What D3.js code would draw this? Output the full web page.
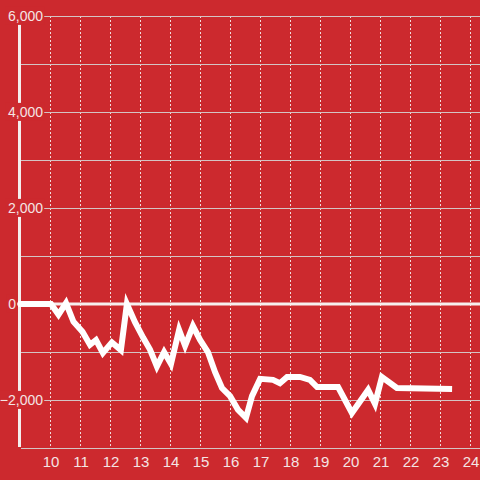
<!DOCTYPE html>
<html><head><meta charset="utf-8">
<script src="https://cdn.jsdelivr.net/npm/d3@7"></script>
<style>html,body{margin:0;padding:0;background:#cc292e;}svg{display:block;}</style>
</head><body>
<script>
const times = [9, 10, 10.25, 10.5, 10.75, 11.05, 11.3, 11.5, 11.73, 12.03, 12.33, 12.53, 12.8, 13.07, 13.3, 13.53, 13.77, 14.0, 14.27, 14.47, 14.73, 14.97, 15.23, 15.47, 15.7, 15.97, 16.23, 16.5, 16.7, 16.97, 17.4, 17.63, 17.87, 18.3, 18.63, 18.87, 19.57, 20.03, 20.57, 20.8, 21.03, 21.53, 23.27];
const values = [0, 0, -220, 20, -370, -580, -850, -750, -1020, -800, -960, 0, -380, -700, -950, -1300, -1000, -1250, -540, -870, -460, -750, -1000, -1420, -1750, -1920, -2200, -2370, -1920, -1560, -1580, -1650, -1520, -1520, -1580, -1730, -1730, -2270, -1790, -2080, -1520, -1750, -1770];
const xTicks = [10, 11, 12, 13, 14, 15, 16, 17, 18, 19, 20, 21, 22, 23, 24];
const yGrid = [-3000, -2000, -1000, 0, 1000, 2000, 3000, 4000, 5000, 6000];
const yLabels = [-2000, 0, 2000, 4000, 6000];

const W = 480, H = 480;
const bg = "#cc292e";
const svg = d3.select("body").append("svg").attr("width", W).attr("height", H);
svg.append("rect").attr("width", W).attr("height", H).attr("fill", bg);

const x = d3.scaleLinear().domain([9, 24.3]).range([21, 480]);
const y = d3.scaleLinear().domain([-3000, 6000]).range([448, 16]);

// vertical dotted grid
svg.append("g").selectAll("line").data(xTicks).join("line")
  .attr("x1", d => Math.round(x(d)) - 0.5).attr("x2", d => Math.round(x(d)) - 0.5)
  .attr("y1", 16).attr("y2", 448)
  .attr("stroke", "#f0dcdc").attr("stroke-width", 1).attr("stroke-dasharray", "2,2");

// horizontal grid
svg.append("g").selectAll("line").data(yGrid.filter(d => d !== 0)).join("line")
  .attr("x1", 21).attr("x2", W)
  .attr("y1", d => y(d) + 0.5).attr("y2", d => y(d) + 0.5)
  .attr("stroke", "#d4c4c4").attr("stroke-width", 1);

// zero line
svg.append("line").attr("x1", 17).attr("x2", W).attr("y1", y(0)).attr("y2", y(0))
  .attr("stroke", "#f6eeee").attr("stroke-width", 3);

// y axis line
svg.append("line").attr("x1", 19.5).attr("x2", 19.5).attr("y1", 16).attr("y2", 447)
  .attr("stroke", "#f4eeee").attr("stroke-width", 3);

// data line
const pts = times.map((t, i) => [t, values[i]]);
svg.append("path").datum(pts)
  .attr("d", d3.line().x(d => x(d[0])).y(d => y(d[1])))
  .attr("fill", "none").attr("stroke", "#ffffff").attr("stroke-width", 6)
  .attr("stroke-linecap", "square").attr("stroke-linejoin", "miter");

// y labels with background boxes
const fmt = d3.format(",");
const yl = svg.append("g").selectAll("g").data(yLabels).join("g");
yl.each(function(d) {
  const g = d3.select(this);
  const t = g.append("text").attr("x", d === 0 ? 16 : 43).attr("y", y(d)).attr("dy", "0.35em")
    .attr("text-anchor", "end").attr("font-family", "Liberation Sans, Arial, sans-serif")
    .attr("font-size", 14).attr("fill", "#f4e4e4").text(fmt(d));
  const bb = t.node().getBBox();
  g.insert("rect", "text").attr("x", bb.x - 2).attr("y", bb.y - 1)
    .attr("width", bb.width + 3).attr("height", bb.height + 2).attr("fill", bg);
});

// x labels
svg.append("g").selectAll("text").data(xTicks).join("text")
  .attr("x", d => x(d)).attr("y", 467).attr("text-anchor", "middle")
  .attr("font-family", "Liberation Sans, Arial, sans-serif").attr("font-size", 15)
  .attr("fill", "#f4e4e4").text(d => d);
</script>
</body></html>
